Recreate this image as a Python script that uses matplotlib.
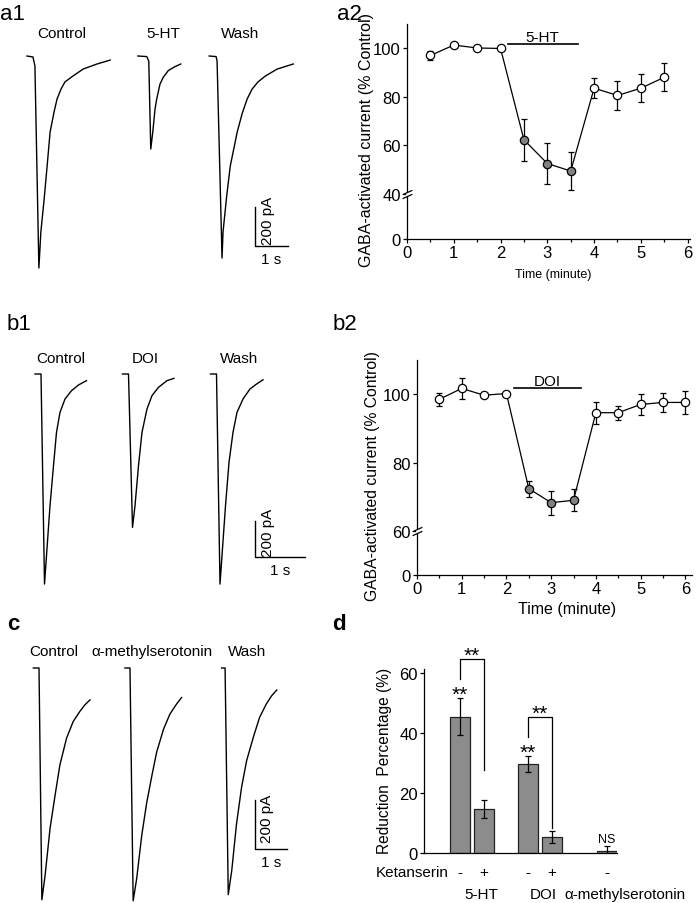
import numpy as np
import matplotlib
matplotlib.use("Agg")
import matplotlib.pyplot as plt
from matplotlib.ticker import MultipleLocator, NullLocator
from matplotlib.transforms import ScaledTranslation

plt.rcParams["font.family"] = ["Liberation Sans", "DejaVu Sans"]
plt.rcParams["font.size"] = 11

# ---- current traces: time (s) from start of sweep, current (pA) from baseline
a1_control_t = [0, 0.18, 0.24, 0.36, 0.42, 0.52, 0.61, 0.70, 0.82, 0.91, 1.03, 1.15, 1.39, 1.70, 2.12, 2.52]
a1_control_i = [0, -5, -51, -1087, -903, -733, -564, -390, -287, -221, -170, -133, -103, -67, -41, -21]
a1_5ht_t = [0, 0.27, 0.33, 0.39, 0.45, 0.52, 0.57, 0.67, 0.77, 0.92, 1.12, 1.30]
a1_5ht_i = [0, -3, -26, -477, -392, -272, -221, -144, -109, -75, -55, -41]
a1_wash_t = [0, 0.21, 0.24, 0.39, 0.42, 0.53, 0.64, 0.85, 1.00, 1.15, 1.30, 1.48, 1.70, 2.06, 2.55]
a1_wash_i = [0, -3, -26, -1036, -903, -720, -564, -390, -295, -221, -170, -133, -103, -67, -41]

b1_control_t = [0, 0.12, 0.19, 0.23, 0.30, 0.37, 0.43, 0.50, 0.60, 0.73, 0.87, 1.03]
b1_control_i = [0, 0, -1167, -1009, -732, -509, -324, -213, -139, -93, -61, -37]
b1_doi_t = [0, 0.12, 0.20, 0.25, 0.32, 0.39, 0.49, 0.59, 0.72, 0.89, 1.03]
b1_doi_i = [0, 0, -852, -732, -509, -324, -194, -120, -74, -37, -24]
b1_wash_t = [0, 0.12, 0.19, 0.23, 0.30, 0.37, 0.45, 0.53, 0.65, 0.79, 0.92, 1.05]
b1_wash_i = [0, 0, -1167, -1009, -732, -491, -324, -213, -139, -83, -56, -32]

c_control_t = [0, 0.18, 0.27, 0.37, 0.53, 0.69, 0.84, 1.05, 1.26, 1.47, 1.63, 1.79]
c_control_i = [0, 0, -946, -849, -653, -517, -395, -286, -218, -177, -150, -130]
c_ams_t = [0, 0.16, 0.26, 0.37, 0.53, 0.69, 0.85, 1.00, 1.22, 1.42, 1.63, 1.79]
c_ams_i = [0, 0, -950, -861, -684, -548, -440, -344, -249, -188, -147, -120]
c_wash_t = [0, 0.11, 0.21, 0.32, 0.47, 0.63, 0.79, 1.00, 1.20, 1.41, 1.58, 1.74]
c_wash_i = [0, 0, -925, -827, -637, -487, -378, -283, -201, -147, -113, -90]

# ---- time courses (% of control)
a2_time = [0.5, 1.0, 1.5, 2.0, 2.5, 3.0, 3.5, 4.0, 4.5, 5.0, 5.5]
a2_mean = [97.0, 101.3, 100.1, 99.9, 62.2, 52.4, 49.3, 83.5, 80.5, 83.5, 88.0]
a2_err = [2.0, 1.0, 0.6, 0.7, 8.7, 8.5, 7.7, 4.2, 6.0, 5.8, 5.8]
a2_drug = [0, 0, 0, 0, 1, 1, 1, 0, 0, 0, 0]
a2_window = [2.15, 3.65]

b2_time = [0.5, 1.0, 1.5, 2.0, 2.5, 3.0, 3.5, 4.0, 4.5, 5.0, 5.5, 6.0]
b2_mean = [98.5, 101.7, 99.7, 100.2, 72.4, 68.3, 69.0, 94.6, 94.6, 97.0, 97.6, 97.6]
b2_err = [1.9, 3.1, 0.5, 0.3, 2.3, 3.5, 3.2, 3.2, 2.0, 3.2, 2.9, 3.4]
b2_drug = [0, 0, 0, 0, 1, 1, 1, 0, 0, 0, 0, 0]
b2_window = [2.18, 3.67]

# ---- reduction percentage
d_mean = [45.6, 14.7, 29.7, 5.2, 0.8]
d_err = [6.1, 3.0, 2.7, 2.0, 1.6]
d_ketanserin = ["-", "+", "-", "+", "-"]
d_marks = ["**", "", "**", "", "NS"]
d_groups = ["5-HT", "DOI", "α-methylserotonin"]

W, H = 697, 904
fig = plt.figure(figsize=(W / 100, H / 100), dpi=100)


def px_axes(left, top, right, bottom):
    return fig.add_axes([left / W, 1 - bottom / H, (right - left) / W, (bottom - top) / H])


def fig_text(x, y, s, **kw):
    fig.text(x / W, 1 - y / H, s, **kw)


def trace_axes(box, origin, px_per_s, px_per_200pA):
    left, top, right, bottom = box
    ox, oy = origin
    ax = px_axes(left, top, right, bottom)
    ax.set_xlim((left - ox) / px_per_s, (right - ox) / px_per_s)
    ax.set_ylim(-(bottom - oy) / px_per_200pA * 200, -(top - oy) / px_per_200pA * 200)
    ax.axis("off")
    return ax


def draw_traces(ax, traces, starts):
    for (t, i), t0 in zip(traces, starts):
        ax.plot(np.asarray(t) + t0, i, color="k", lw=1.0)


def scale_bar(ax, x, y):
    ax.plot([x, x, x + 1], [y + 200, y, y], color="k", lw=1.0)
    ax.annotate("200 pA", (x, y + 100), xytext=(4, 5), textcoords="offset points",
                rotation=90, ha="left", va="center", fontsize=11)
    ax.annotate("1 s", (x + 0.5, y), xytext=(0, -9.5), textcoords="offset points",
                ha="center", va="center", fontsize=11)


def broken_scale(lo, k):
    def fwd(y):
        y = np.asarray(y, dtype=float)
        return np.where(y < lo, y * k, lo * k + (y - lo))

    def inv(v):
        v = np.asarray(v, dtype=float)
        return np.where(v < lo * k, v / k, v - lo * k + lo)

    return fwd, inv


def time_course(ax, t, m, e, drug, window, drug_name, lo, k, xmax, yticks):
    fwd, inv = broken_scale(lo, k)
    ax.set_yscale("function", functions=(fwd, inv))
    ax.set_xlim(0, xmax)
    ax.set_ylim(0, 110)
    t = np.asarray(t)
    m = np.asarray(m)
    drug = np.asarray(drug, dtype=bool)
    ax.errorbar(t, m, yerr=e, fmt="none", ecolor="k", elinewidth=0.9,
                capsize=2.5, capthick=0.9, zorder=2)
    ax.plot(t, m, color="k", lw=0.9, zorder=3)
    ax.plot(t[~drug], m[~drug], "o", ms=6, mfc="white", mec="k", mew=0.9, zorder=4)
    ax.plot(t[drug], m[drug], "o", ms=6, mfc="#808080", mec="k", mew=0.9, zorder=4)
    ax.plot(window, [101.7, 101.7], color="k", lw=1.2)
    ax.annotate(drug_name, (np.mean(window), 101.7), xytext=(0, 2.5),
                textcoords="offset points", ha="center", va="baseline", fontsize=11)
    ax.set_yticks(yticks)
    ax.yaxis.set_minor_locator(NullLocator())
    ax.set_xticks(range(7))
    ax.xaxis.set_minor_locator(MultipleLocator(0.5))
    ax.tick_params(which="major", direction="out", length=3, width=0.9, pad=1.5, labelsize=12)
    ax.tick_params(which="minor", direction="out", length=2, width=0.9)
    for side in ("top", "right"):
        ax.spines[side].set_visible(False)
    for side in ("left", "bottom"):
        ax.spines[side].set_linewidth(0.9)
    # axis break marks
    ax.plot([0], [lo], marker="|", ms=3.5, mew=2, color="white", clip_on=False, zorder=6)
    for dy in (-1.4, 1.4):
        tr = ax.transData + ScaledTranslation(0, dy / 72, fig.dpi_scale_trans)
        ax.plot([0], [lo], marker=[(-1, -0.45), (1, 0.45)], ms=7, mew=0.9, color="k",
                transform=tr, clip_on=False, zorder=7)


# ---------------- a1
ax = trace_axes((0, 22, 340, 290), (27, 57), 33, 39)
draw_traces(ax, [(a1_control_t, a1_control_i), (a1_5ht_t, a1_5ht_i), (a1_wash_t, a1_wash_i)],
            [0, 3.36, 5.52])
scale_bar(ax, 6.91, -974)
for name, x in zip(["Control", "5-HT", "Wash"], [62, 163, 240]):
    fig_text(x, 38, name, ha="center", va="baseline", fontsize=11)

# ---------------- b1
ax = trace_axes((0, 365, 340, 600), (35, 375), 50, 36)
draw_traces(ax, [(b1_control_t, b1_control_i), (b1_doi_t, b1_doi_i), (b1_wash_t, b1_wash_i)],
            [0, 1.75, 3.51])
scale_bar(ax, 4.4, -1018)
for name, x in zip(["Control", "DOI", "Wash"], [61, 145, 239]):
    fig_text(x, 363, name, ha="center", va="baseline", fontsize=11)

# ---------------- c
ax = trace_axes((0, 660, 340, 904), (33.3, 669), 31.7, 49)
draw_traces(ax, [(c_control_t, c_control_i), (c_ams_t, c_ams_i), (c_wash_t, c_wash_i)],
            [0, 2.89, 5.94])
scale_bar(ax, 6.99, -739)
for name, x in zip(["Control", "α-methylserotonin", "Wash"], [54, 152, 247]):
    fig_text(x, 656, name, ha="center", va="baseline", fontsize=11)

# ---------------- a2
ax = px_axes(407, 25, 690, 240)
time_course(ax, a2_time, a2_mean, a2_err, a2_drug, a2_window, "5-HT",
            40, 0.469, 6.05, [0, 40, 60, 80, 100])
ax.set_xlabel("Time (minute)", fontsize=9)
ax.xaxis.set_label_coords(0.516, -0.163)
ax.xaxis.label.set_va("center")
ax.set_ylabel("GABA-activated current (% Control)", fontsize=11.5)
ax.yaxis.set_label_coords(-0.142, 0.465)
ax.yaxis.label.set_va("center")

# ---------------- b2
ax = px_axes(417, 361, 692, 576)
time_course(ax, b2_time, b2_mean, b2_err, b2_drug, b2_window, "DOI",
            60, 0.214, 6.15, [0, 60, 80, 100])
ax.set_xlabel("Time (minute)", fontsize=11.5)
ax.xaxis.set_label_coords(0.545, -0.158)
ax.xaxis.label.set_va("center")
ax.set_ylabel("GABA-activated current (% Control)", fontsize=11.3)
ax.yaxis.set_label_coords(-0.16, 0.465)
ax.yaxis.label.set_va("center")

# ---------------- d
ax = px_axes(424, 670, 617, 854)
pos = np.array([1, 2, 3.83, 4.83, 7.13])
mean = np.array(d_mean)
err = np.array(d_err)
ax.bar(pos, mean, width=0.83, color="#8c8c8c", edgecolor="#222222", lw=0.9, zorder=2)
ax.errorbar(pos, mean, yerr=err, fmt="none", ecolor="k", elinewidth=0.9,
            capsize=2.5, capthick=0.9, zorder=3)
ax.set_xlim(-0.5, 7.54)
ax.set_ylim(0, 61.5)
ax.set_xticks([])
ax.set_yticks([0, 20, 40, 60])
ax.tick_params(axis="y", direction="out", length=3, width=0.9, pad=1.5, labelsize=12)
for side in ("top", "right"):
    ax.spines[side].set_visible(False)
for side in ("left", "bottom"):
    ax.spines[side].set_linewidth(0.9)

for x, top, mark in zip(pos, mean + err, d_marks):
    if mark == "**":
        ax.annotate(mark, (x, top), xytext=(0, -1), textcoords="offset points",
                    ha="center", va="baseline", fontsize=15, annotation_clip=False)
    elif mark:
        ax.annotate(mark, (x, top), xytext=(0, 3), textcoords="offset points",
                    ha="center", va="baseline", fontsize=9, annotation_clip=False)

# significance brackets (drug alone vs drug + ketanserin)
for i, j in [(0, 1), (2, 3)]:
    start = mean[i] + err[i] + 6.5
    top = start + 6.6
    ax.plot([pos[i], pos[i], pos[j], pos[j]], [start, top, top, top - 37],
            color="k", lw=0.9, clip_on=False)
    ax.annotate("**", ((pos[i] + pos[j]) / 2, top), xytext=(0, -1.5), textcoords="offset points",
                ha="center", va="baseline", fontsize=15, annotation_clip=False)

ax.set_ylabel("Reduction  Percentage (%)", fontsize=11.2)
ax.yaxis.set_label_coords(-0.207, 0.505)
ax.yaxis.label.set_va("center")

ax.annotate("Ketanserin", (pos[0] - 0.46, 0), xycoords=("data", "axes fraction"),
            xytext=(0, -14), textcoords="offset points", ha="right", va="center", fontsize=11)
for x, sign in zip(pos, d_ketanserin):
    ax.annotate(sign, (x, 0), xycoords=("data", "axes fraction"),
                xytext=(0, -14), textcoords="offset points", ha="center", va="center", fontsize=11)
for x, g in zip([1.9, 4.45, 7.875], d_groups):
    ax.annotate(g, (x, 0), xycoords=("data", "axes fraction"),
                xytext=(0, -29.5), textcoords="offset points", ha="center", va="center", fontsize=11)

# ---------------- panel letters
fig_text(0, 20, "a1", fontsize=16, va="baseline")
fig_text(337, 20, "a2", fontsize=16, va="baseline")
fig_text(7, 330, "b1", fontsize=16, va="baseline")
fig_text(333, 330, "b2", fontsize=16, va="baseline")
fig_text(7, 630, "c", fontsize=16, va="baseline", fontweight="bold")
fig_text(332, 630, "d", fontsize=16, va="baseline", fontweight="bold")

fig.savefig("out.png", dpi=100)
